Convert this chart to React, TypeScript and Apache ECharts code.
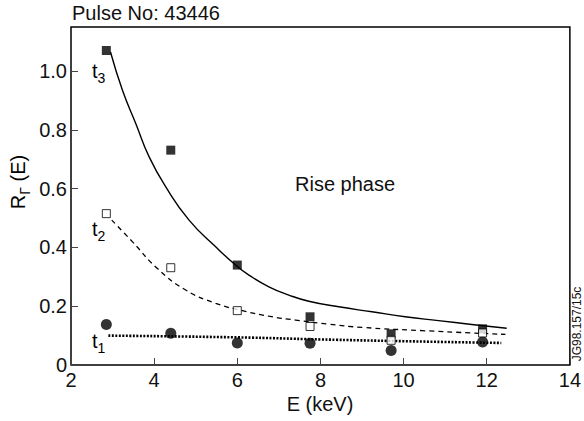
import React, { useEffect, useRef } from "react";
import * as echarts from "echarts";

// Measured points (E in keV, R_Gamma(E))
const energies = [2.85, 4.4, 6.0, 7.75, 9.7, 11.9];
const t3Values = [1.07, 0.731, 0.34, 0.164, 0.106, 0.123];
const t2Values = [0.515, 0.331, 0.185, 0.131, 0.084, 0.109];
const t1Values = [0.138, 0.108, 0.075, 0.074, 0.049, 0.078];

// Fitted curves
const t3FitE = [2.95, 3.24, 3.56, 3.88, 4.28, 4.84, 5.48, 5.96, 6.28, 6.76, 7.24, 7.72, 8.44, 9.24, 10.04, 10.84, 11.64, 12.48];
const t3FitR = [1.065, 0.934, 0.821, 0.708, 0.606, 0.493, 0.402, 0.34, 0.306, 0.266, 0.238, 0.217, 0.198, 0.181, 0.164, 0.151, 0.138, 0.125];
const t2FitE = [2.98, 3.48, 4.08, 4.76, 5.48, 6.12, 6.76, 7.4, 8.2, 9.0, 10.44, 12.45];
const t2FitR = [0.493, 0.419, 0.328, 0.255, 0.21, 0.185, 0.166, 0.153, 0.139, 0.128, 0.117, 0.104];
const t1FitE = [2.9, 6.0, 8.0, 10.0, 12.35];
const t1FitR = [0.1, 0.094, 0.087, 0.081, 0.075];

const xTickValues = [2, 4, 6, 8, 10, 12, 14];
const yTickValues = [0, 0.2, 0.4, 0.6, 0.8, 1.0];
const yMax = 1.15;

const FONT = '"Liberation Sans", Arial, Helvetica, sans-serif';
const TXT = "#111";

const zip = (a: number[], b: number[]) => a.map((v, i) => [v, b[i]]);

export default function App() {
  const ref = useRef<HTMLDivElement>(null);
  useEffect(() => {
    if (!ref.current) return;
    const chart = echarts.init(ref.current, undefined, { renderer: "svg" });
    const subRich = {
      m: { fontSize: 20, fontFamily: FONT, color: TXT, lineHeight: 22, verticalAlign: "top" },
      s: { fontSize: 14, fontFamily: FONT, color: TXT, lineHeight: 16, padding: [10, 0, 0, 0], verticalAlign: "top" },
    };
    const tLabel = (n: string, x: number, y: number) => ({
      type: "text",
      x,
      y,
      style: {
        text: `{m|t}{s|${n}}`,
        rich: subRich,
        align: "left",
        verticalAlign: "middle",
      },
    });
    chart.setOption({
      animation: false,
      backgroundColor: "#fff",
      grid: {
        left: 71,
        right: 12,
        top: 27,
        bottom: 56,
        show: true,
        borderColor: "#000",
        borderWidth: 1.5,
        backgroundColor: "transparent",
      },
      xAxis: {
        type: "value",
        min: xTickValues[0],
        max: xTickValues[xTickValues.length - 1],
        interval: xTickValues[1] - xTickValues[0],
        axisLine: { show: false },
        axisTick: { show: true, inside: true, length: 7, lineStyle: { color: "#444", width: 1 } },
        splitLine: { show: false },
        axisLabel: { color: TXT, fontSize: 20, fontFamily: FONT, margin: 5 },
      },
      yAxis: {
        type: "value",
        min: 0,
        max: yMax,
        interval: yTickValues[1] - yTickValues[0],
        axisLine: { show: false },
        axisTick: { show: true, inside: true, length: 7, lineStyle: { color: "#444", width: 1 } },
        splitLine: { show: false },
        axisLabel: {
          color: TXT,
          fontSize: 20,
          fontFamily: FONT,
          margin: 4,
          showMaxLabel: false,
          formatter: (v: number) => {
            const hit = yTickValues.find((t) => Math.abs(t - v) < 1e-6);
            if (hit === undefined) return "";
            return hit === 0 ? "0" : hit.toFixed(1);
          },
        },
      },
      series: [
        {
          name: "t3 fit",
          type: "line",
          data: zip(t3FitE, t3FitR),
          smooth: true,
          symbol: "none",
          lineStyle: { color: "#000", width: 1.4 },
          z: 2,
        },
        {
          name: "t2 fit",
          type: "line",
          data: zip(t2FitE, t2FitR),
          smooth: true,
          symbol: "none",
          lineStyle: { color: "#000", width: 1.3, type: [5, 4] },
          z: 2,
        },
        {
          name: "t1 fit",
          type: "line",
          data: zip(t1FitE, t1FitR),
          smooth: true,
          symbol: "none",
          lineStyle: { color: "#000", width: 2.6, type: [2, 1.5] },
          z: 2,
        },
        {
          name: "t3",
          type: "scatter",
          data: zip(energies, t3Values),
          symbol: "rect",
          symbolSize: 9,
          itemStyle: { color: "#000" },
          z: 4,
        },
        {
          name: "t2",
          type: "scatter",
          data: zip(energies, t2Values),
          symbol: "rect",
          symbolSize: 8,
          itemStyle: { color: "#fff", borderColor: "#000", borderWidth: 1 },
          z: 5,
        },
        {
          name: "t1",
          type: "scatter",
          data: zip(energies, t1Values),
          symbol: "circle",
          symbolSize: 11,
          itemStyle: { color: "#000" },
          z: 3,
        },
      ],
      graphic: [
        {
          type: "text",
          x: 72,
          y: 13,
          style: { text: "Pulse No: 43446", font: `20px ${FONT}`, fill: TXT, align: "left", verticalAlign: "middle" },
        },
        {
          type: "text",
          x: 295,
          y: 184,
          style: { text: "Rise phase", font: `20px ${FONT}`, fill: TXT, align: "left", verticalAlign: "middle" },
        },
        {
          type: "text",
          x: 320,
          y: 404,
          style: { text: "E (keV)", font: `20px ${FONT}`, fill: TXT, align: "center", verticalAlign: "middle" },
        },
        {
          type: "text",
          x: 19,
          y: 182,
          rotation: Math.PI / 2,
          style: {
            text: "{m|R}{s|Γ}{m| (E)}",
            rich: subRich,
            align: "center",
            verticalAlign: "middle",
          },
        },
        {
          type: "text",
          x: 577,
          y: 324,
          rotation: Math.PI / 2,
          style: { text: "JG98.157/15c", font: `12px ${FONT}`, fill: TXT, align: "center", verticalAlign: "middle" },
        },
        tLabel("3", 92, 72),
        tLabel("2", 92, 230),
        tLabel("1", 92, 342),
      ],
    });
    return () => chart.dispose();
  }, []);
  return (
    <div
      ref={ref}
      style={{ position: "fixed", left: 0, top: 0, width: 584, height: 421, background: "#fff" }}
    />
  );
}
